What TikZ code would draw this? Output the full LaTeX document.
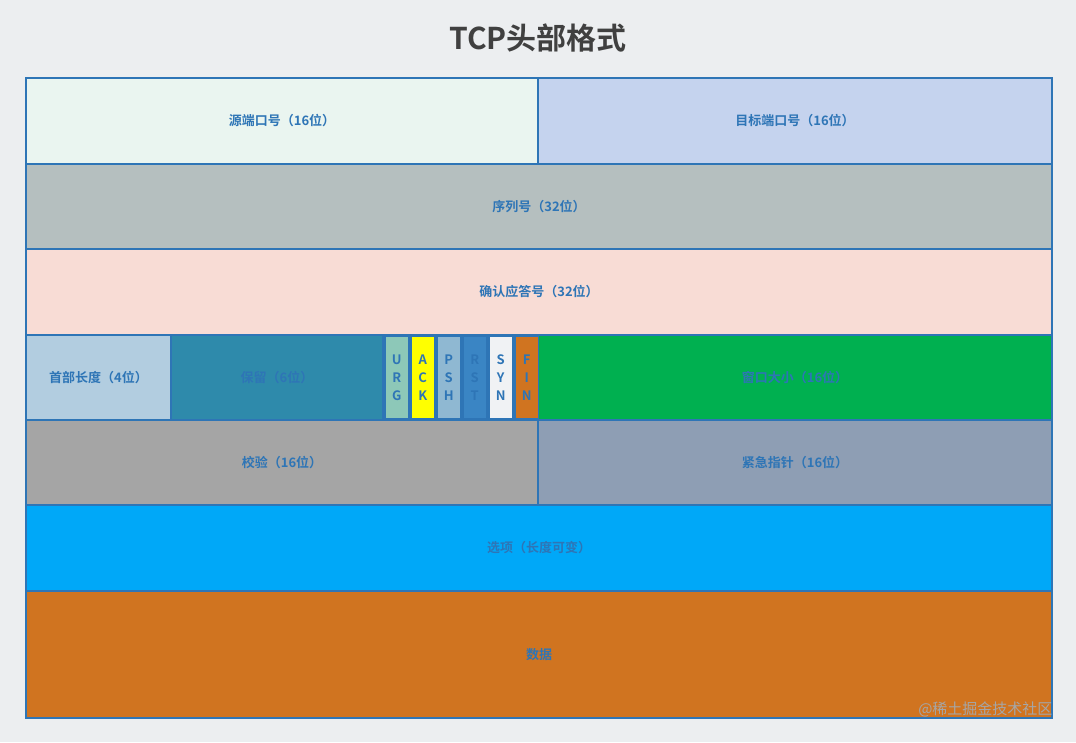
\documentclass[tikz,border=0pt]{standalone}
\usepackage{fontspec}
\setmainfont{Noto Sans CJK SC}[BoldFont={Noto Sans CJK SC Bold}]
\definecolor{bg}{HTML}{ECEEF0}
\definecolor{ln}{HTML}{2E75B6}
\definecolor{tx}{HTML}{2E75B6}
\begin{document}
\begin{tikzpicture}[x=1pt,y=-1pt,
  cell/.style={draw=ln,line width=2pt},
  lbl/.style={text=tx,font=\bfseries\fontsize{13}{15}\selectfont},
  flag/.style={draw=none,text=tx,font=\bfseries\fontsize{13}{18}\selectfont,align=center}]
\fill[bg] (0,0) rectangle (1076,742);
\useasboundingbox (0,0) rectangle (1076,742);
\node[text=black!75,font=\bfseries\fontsize{30}{34}\selectfont] (title) at (538,38) {TCP头部格式};
\newcommand\cellbox[6]{\definecolor{tmpc}{HTML}{#5}\filldraw[cell,fill=tmpc] (#1,#2) rectangle (#3,#4); \node[lbl] (#6) at ({(#1+#3)/2},{(#2+#4)/2})}
\cellbox{26}{78}{538}{164}{EAF5F0}{src}{源端口号（16位）};
\cellbox{538}{78}{1052}{164}{C5D3EE}{dst}{目标端口号（16位）};
\cellbox{26}{164}{1052}{249}{B5BFBF}{seq}{序列号（32位）};
\cellbox{26}{249}{1052}{335}{F8DCD5}{ackn}{确认应答号（32位）};
\cellbox{26}{335}{171}{420}{B2CDE0}{hlen}{首部长度（4位）};
\cellbox{171}{335}{383}{420}{2E8AAB}{res}{保留（6位）};
\filldraw[cell,fill=ln] (383,335) rectangle (538,420);
\cellbox{538}{335}{1052}{420}{00B050}{win}{窗口大小（16位）};
\cellbox{26}{420}{538}{505}{A5A5A5}{chk}{校验（16位）};
\cellbox{538}{420}{1052}{505}{8E9EB4}{urgp}{紧急指针（16位）};
\cellbox{26}{505}{1052}{591}{00A8F8}{opt}{选项（长度可变）};
\cellbox{26}{591}{1052}{718}{D07420}{data}{数据};
\foreach \x/\c in {386/8DC8B8,412/FFFF00,438/8FB8D2,464/3A85C4,490/F0F2F4,516/D07420}{
  \definecolor{fc}{HTML}{\c}
  \fill[fc] (\x,337) rectangle ++(21.5,81);
}
\foreach \x/\a/\b/\d/\n in {386/U/R/G/urg,412/A/C/K/ackf,438/P/S/H/psh,464/R/S/T/rst,490/S/Y/N/syn,516/F/I/N/fin}{
  \node[flag] (\n) at (\x+10.75,377.5) {\a\\\b\\\d};
}
\node[text=black!35,font=\fontsize{15}{17}\selectfont,anchor=east] (wm) at (1056,709) {@稀土掘金技术社区};
\end{tikzpicture}
\end{document}
